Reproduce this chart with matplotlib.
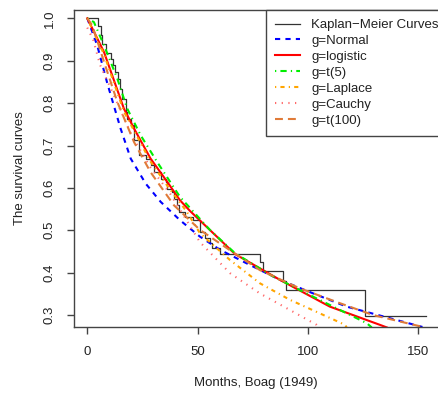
import matplotlib
matplotlib.use("Agg")
import matplotlib.pyplot as plt

plt.rcParams['font.family'] = ['Liberation Sans', 'DejaVu Sans']

# Kaplan-Meier step curve (event times, survival after each step)
km_t = [0, 4.85, 6.1, 6.8, 8.3, 10.6, 11.8, 12.4, 13.9, 14.8, 15.9, 17.4, 18.1, 19.7,
        21.2, 23.4, 26.5, 28.7, 30.2, 33.3, 35.5, 36.3, 38.5, 39.3, 40.8, 41.6, 44.3,
        48.1, 51.1, 53.4, 55.6, 56.4, 60.2, 78.3, 79.8, 88.9, 90.1, 125.9, 153.6]
km_s = [1.0, 0.983, 0.96, 0.94, 0.917, 0.905, 0.889, 0.873, 0.858, 0.834, 0.81, 0.779,
        0.763, 0.748, 0.712, 0.677, 0.669, 0.653, 0.637, 0.622, 0.614, 0.598, 0.590,
        0.575, 0.559, 0.543, 0.532, 0.524, 0.497, 0.481, 0.469, 0.458, 0.444, 0.425,
        0.405, 0.381, 0.359, 0.299, 0.299]

normal_t = [0, 4.5, 9.1, 15.1, 19.7, 26.5, 33.3, 42, 51.1, 60.2, 72.3, 87.4, 102.5, 117.6, 132.7, 152]
normal_s = [1.0, 0.936, 0.846, 0.74, 0.669, 0.61, 0.567, 0.524, 0.485, 0.454, 0.422, 0.383, 0.351, 0.320, 0.299, 0.272]

logis_t = [0, 7.6, 16.6, 21.2, 28.7, 36.3, 42, 46.6, 67, 87.4, 110, 132.7, 135.8]
logis_s = [1.0, 0.92, 0.787, 0.74, 0.669, 0.614, 0.571, 0.5455, 0.444, 0.383, 0.320, 0.277, 0.271]

t5_t = [0, 3, 7.6, 13.6, 18.1, 24.2, 31.7, 42, 55.6, 67, 82.9, 96.4, 114.6, 126.7, 129]
t5_s = [1.0, 0.991, 0.936, 0.858, 0.787, 0.724, 0.661, 0.579, 0.501, 0.446, 0.395, 0.359, 0.312, 0.281, 0.271]

lap_t = [0, 7.6, 16.6, 21.2, 28.7, 36.3, 45.1, 51.1, 64.7, 78.3, 91.9, 105.5, 116.9, 117.6]
lap_s = [1.0, 0.915, 0.78, 0.735, 0.662, 0.605, 0.544, 0.493, 0.430, 0.375, 0.336, 0.304, 0.277, 0.271]

cau_t = [0, 2.7, 5.8, 12.1, 20, 28.4, 37.5, 51.1, 64.7, 78.3, 91.9, 104, 105.1]
cau_s = [0.978, 0.949, 0.89, 0.818, 0.725, 0.65, 0.587, 0.472, 0.399, 0.351, 0.312, 0.277, 0.271]

t100_t = [0, 2.3, 7.6, 13.6, 21.2, 28.7, 39.3, 51.1, 64.7, 78.3, 96.4, 114.6, 129.7, 153]
t100_s = [1.0, 0.983, 0.897, 0.803, 0.708, 0.637, 0.559, 0.501, 0.453, 0.406, 0.363, 0.328, 0.300, 0.271]

labels = ["Kaplan\u2212Meier Curves", "g=Normal", "g=logistic", "g=t(5)",
          "g=Laplace", "g=Cauchy", "g=t(100)"]

W, H = 438, 394
FS = 9.5
fig = plt.figure(figsize=(W / 100, H / 100), dpi=100)
ax = fig.add_axes([74 / W, 1 - 327.3 / H, (441 - 74) / W, (327.3 - 9.7) / H])

lw = 1.5
ax.step(km_t, km_s, where='post', color='#333333', lw=0.9, label=labels[0])
ax.plot(normal_t, normal_s, color='#0000ff', lw=lw, dashes=(2.5, 2.5), label=labels[1])
ax.plot(logis_t, logis_s, color='#ff0000', lw=lw, label=labels[2])
ax.plot(t5_t, t5_s, color='#00ee00', lw=lw, dashes=(0.6, 2.0, 3.0, 2.0), label=labels[3])
ax.plot(lap_t, lap_s, color='#ffa500', lw=lw, dashes=(0.6, 2.0, 2.0, 2.0), label=labels[4])
ax.plot(cau_t, cau_s, color='#ff6a6a', lw=lw, dashes=(0.6, 2.6), label=labels[5])
ax.plot(t100_t, t100_s, color='#e07b39', lw=lw, dashes=(3.8, 2.4), label=labels[6])

x0, x1 = 87.3, 2.205
ax.set_xlim((74 - x0) / x1, (441 - x0) / x1)
ax.set_ylim(1 - (327.3 - 18.3) / 424, 1 + (18.3 - 9.7) / 424)

ax.set_xticks([0, 50, 100, 150])
ax.set_yticks([0.3, 0.4, 0.5, 0.6, 0.7, 0.8, 0.9, 1.0])
ax.set_yticklabels(["0.3", "0.4", "0.5", "0.6", "0.7", "0.8", "0.9", "1.0"],
                   rotation=90, va='center')
for s in ax.spines.values():
    s.set_color('#444444')
    s.set_linewidth(1.0)
ax.tick_params(direction='out', length=5, width=1.0, color='#444444',
               labelsize=FS, labelcolor='#222222')
ax.tick_params(axis='x', pad=8.5)
ax.tick_params(axis='y', pad=8)

fig.text(256 / W, 1 - 383 / H, "Months, Boag (1949)", ha='center', va='center',
         fontsize=FS, color='#222222')
fig.text(20 / W, 1 - 168.5 / H, "The survival curves", ha='center', va='center',
         rotation=90, fontsize=FS, color='#222222')

leg = ax.legend(loc='upper left', bbox_to_anchor=(265.7 / W, 1 - 9.7 / H),
                bbox_transform=fig.transFigure, fontsize=FS, frameon=True,
                fancybox=False, edgecolor='#444444', framealpha=1,
                handlelength=1.9, handletextpad=0.85, labelspacing=0.28,
                borderpad=0.7, borderaxespad=0)
leg.get_frame().set_linewidth(1.0)
for t in leg.get_texts():
    t.set_color('#222222')

fig.savefig("out.png", dpi=100)
